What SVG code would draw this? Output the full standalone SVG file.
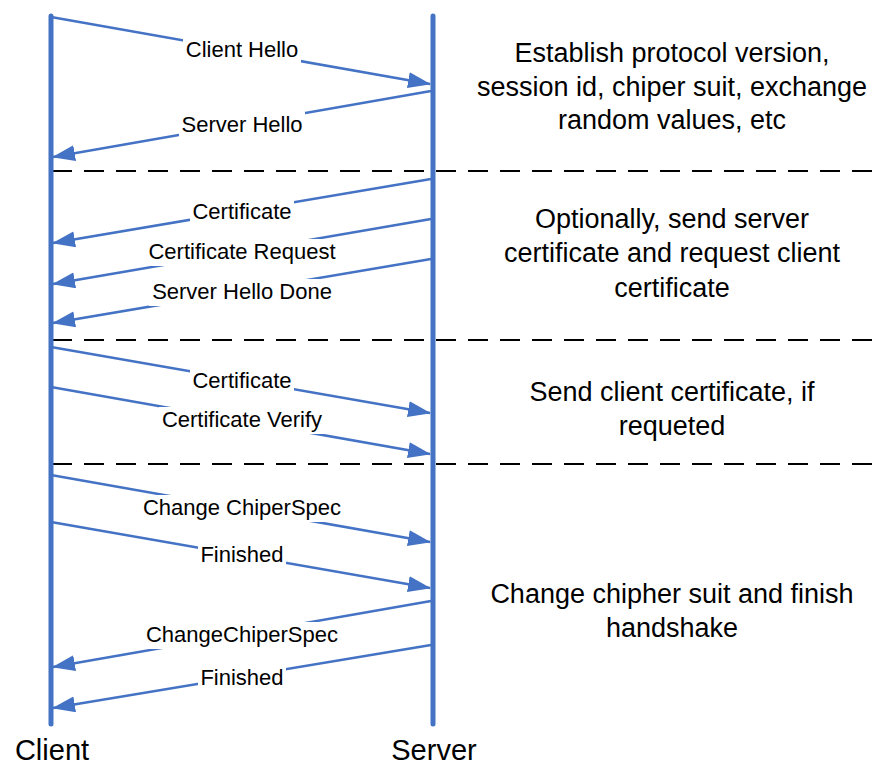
<svg xmlns="http://www.w3.org/2000/svg" width="875" height="768" viewBox="0 0 875 768">
<style>
.life{stroke:#4472C4;stroke-width:5;stroke-linecap:round;fill:none}
.msg{stroke:#4472C4;stroke-width:2.5;fill:none;marker-end:url(#ah)}
.dash{stroke:#000;stroke-width:2.2;stroke-dasharray:20 12;fill:none}
.lbl{font-family:"Liberation Sans",Arial,sans-serif;font-size:22px;fill:#000;text-anchor:middle}
.bg{fill:#fff}
.note{font-family:"Liberation Sans",Arial,sans-serif;font-size:27px;fill:#000;text-anchor:middle}
.actor{font-family:"Liberation Sans",Arial,sans-serif;font-size:29px;fill:#000;text-anchor:middle}
</style>
<defs>
<marker id="ah" markerUnits="userSpaceOnUse" markerWidth="24" markerHeight="18" refX="22" refY="8" orient="auto">
<path d="M0,0 L23,8 L0,16 z" fill="#4472C4"/>
</marker>
</defs>
<g id="separators">
<line class="dash" x1="52" y1="171" x2="875" y2="171"/>
<line class="dash" x1="52" y1="340" x2="875" y2="340"/>
<line class="dash" x1="52" y1="464" x2="875" y2="464"/>
</g>
<g id="client">
<line class="life" x1="51" y1="16" x2="51" y2="724"/>
<text class="actor" x="52" y="760">Client</text>
</g>
<g id="server">
<line class="life" x1="433" y1="16" x2="433" y2="724"/>
<text class="actor" x="434" y="760">Server</text>
</g>
<g id="connectors">
<line class="msg" x1="51" y1="17" x2="430" y2="84"/>
<rect class="bg" x="183" y="37" width="118" height="27"/>
<text class="lbl" x="242" y="57">Client Hello</text>

<line class="msg" x1="431" y1="91" x2="53" y2="157"/>
<rect class="bg" x="179" y="112" width="126" height="27"/>
<text class="lbl" x="242" y="132">Server Hello</text>

<line class="msg" x1="431" y1="179" x2="53" y2="243"/>
<rect class="bg" x="190" y="199" width="104" height="27"/>
<text class="lbl" x="242" y="219">Certificate</text>

<line class="msg" x1="431" y1="219" x2="53" y2="284"/>
<rect class="bg" x="146" y="239" width="192" height="27"/>
<text class="lbl" x="242" y="259">Certificate Request</text>

<line class="msg" x1="431" y1="259" x2="53" y2="323"/>
<rect class="bg" x="149" y="279" width="185" height="27"/>
<text class="lbl" x="242" y="299">Server Hello Done</text>

<line class="msg" x1="51" y1="347" x2="430" y2="413"/>
<rect class="bg" x="190" y="368" width="104" height="27"/>
<text class="lbl" x="242" y="388">Certificate</text>

<line class="msg" x1="51" y1="387" x2="430" y2="454"/>
<rect class="bg" x="159" y="407" width="166" height="27"/>
<text class="lbl" x="242" y="427">Certificate Verify</text>

<line class="msg" x1="51" y1="475" x2="430" y2="542"/>
<rect class="bg" x="140" y="495" width="203" height="27"/>
<text class="lbl" x="242" y="515">Change ChiperSpec</text>

<line class="msg" x1="51" y1="522" x2="430" y2="588"/>
<rect class="bg" x="198" y="542" width="88" height="27"/>
<text class="lbl" x="242" y="562">Finished</text>

<line class="msg" x1="431" y1="601" x2="53" y2="667"/>
<rect class="bg" x="143" y="622" width="197" height="27"/>
<text class="lbl" x="242" y="642">ChangeChiperSpec</text>

<line class="msg" x1="431" y1="645" x2="53" y2="708"/>
<rect class="bg" x="198" y="665" width="88" height="27"/>
<text class="lbl" x="242" y="685">Finished</text>
</g>
<g id="notes">
<text class="note" x="672" y="62">Establish protocol version,</text>
<text class="note" x="672" y="96">session id, chiper suit, exchange</text>
<text class="note" x="672" y="129">random values, etc</text>
<text class="note" x="672" y="228">Optionally, send server</text>
<text class="note" x="672" y="262">certificate and request client</text>
<text class="note" x="672" y="297">certificate</text>
<text class="note" x="672" y="401">Send client certificate, if</text>
<text class="note" x="672" y="435">requeted</text>
<text class="note" x="672" y="603">Change chipher suit and finish</text>
<text class="note" x="672" y="637">handshake</text>
</g>
</svg>
